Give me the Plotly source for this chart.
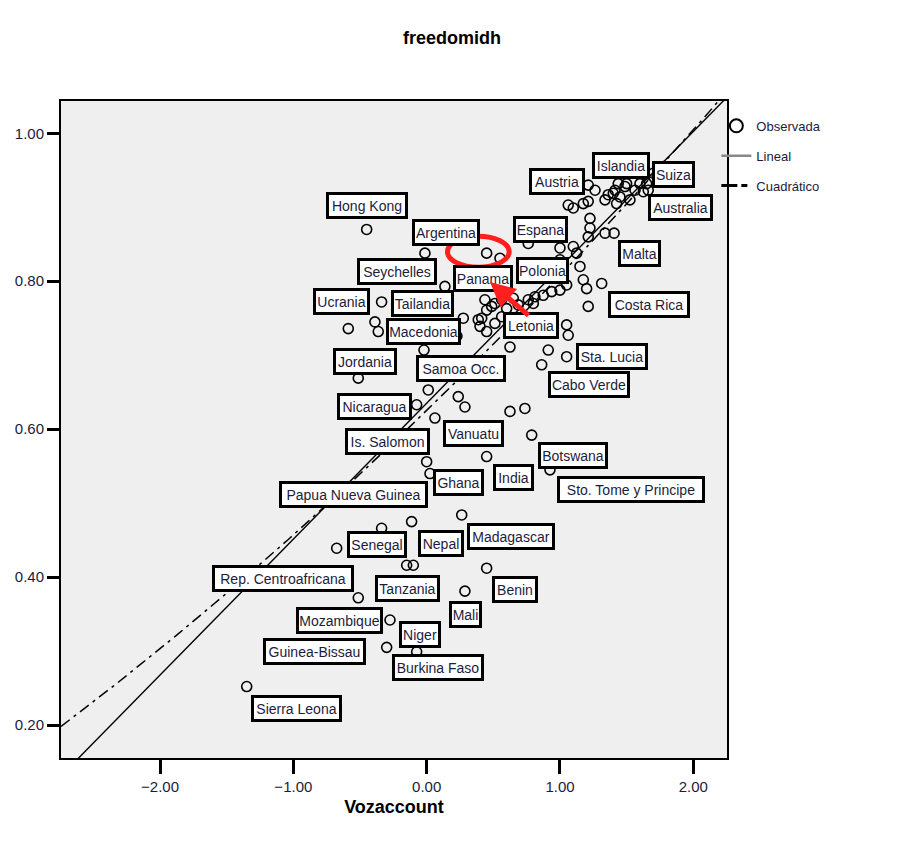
import plotly.graph_objects as go

# Observed countries: Vozaccount (x) vs freedomidh (y)
voz = [1.212, 1.263, 1.212, 1.062, 1.100, 1.225, 1.338, 1.362, 1.400, 1.437,
       1.500, 1.450, 1.425, 1.525, 1.563, 1.600, 1.650, 1.625, 1.662, 1.700,
       1.775, 1.488, 1.338, 1.406, 1.212, 1.000, 1.100, 1.150, 1.175, 0.762,
       1.125, 1.000, 1.175, 1.200, 1.050, 1.000, 0.938, 0.875, 0.812, 0.762,
       0.687, 0.563, 0.512, 0.437, 0.450, 0.413, 0.563, 0.400, 0.450, 1.212,
       1.313, 1.050, 1.062, 0.450, 0.550, -0.013, -0.450, 0.137, -0.338, -0.588,
       -0.388, -0.363, 0.275, 0.212, 0.227, 0.625, 0.912, 1.050, 0.863, -0.513,
       0.012, -0.075, 0.237, 0.287, 0.625, 0.737, 0.062, 0.788, 0.450, 0.000,
       0.025, 0.925, 0.263, -0.113, -0.338, -0.675, -0.150, -0.100, 0.450, 0.287,
       -0.513, -0.275, -0.300, -0.075, -1.350, 0.650, 0.488, 0.600, 0.512, 0.800,
       1.413, -0.020, 0.387, 1.225]
freedom = [0.930, 0.923, 0.908, 0.903, 0.899, 0.885, 0.910, 0.917, 0.919, 0.932,
           0.932, 0.914, 0.905, 0.910, 0.923, 0.932, 0.932, 0.921, 0.923, 0.946,
           0.955, 0.928, 0.865, 0.865, 0.860, 0.845, 0.847, 0.820, 0.905, 0.851,
           0.838, 0.829, 0.802, 0.790, 0.795, 0.788, 0.786, 0.781, 0.779, 0.775,
           0.768, 0.775, 0.770, 0.775, 0.761, 0.750, 0.752, 0.739, 0.732, 0.766,
           0.797, 0.741, 0.727, 0.838, 0.831, 0.838, 0.870, 0.793, 0.772, 0.736,
           0.745, 0.732, 0.750, 0.740, 0.726, 0.711, 0.707, 0.698, 0.687, 0.669,
           0.653, 0.633, 0.644, 0.630, 0.624, 0.628, 0.615, 0.592, 0.563, 0.556,
           0.540, 0.545, 0.484, 0.475, 0.466, 0.439, 0.416, 0.416, 0.412, 0.381,
           0.372, 0.342, 0.305, 0.299, 0.252, 0.777, 0.766, 0.763, 0.743, 0.770,
           0.923, 0.707, 0.748, 0.872]

# Fitted curves: intercept, slope (, quadratic term)
linear_fit = [0.635, 0.1837]
quad_fit = [0.6252, 0.1754, 0.00717]

# Country labels and their positions
label_names = ["Hong Kong", "Argentina", "Espana", "Austria", "Islandia", "Suiza",
               "Australia", "Malta", "Polonia", "Panama", "Seychelles", "Ucrania",
               "Tailandia", "Macedonia", "Letonia", "Costa Rica", "Jordania",
               "Samoa Occ.", "Sta. Lucia", "Cabo Verde", "Nicaragua", "Is. Salomon",
               "Vanuatu", "Botswana", "India", "Ghana", "Sto. Tome y Principe",
               "Papua Nueva Guinea", "Madagascar", "Senegal", "Nepal", "Tanzania",
               "Benin", "Mali", "Niger", "Burkina Faso", "Mozambique",
               "Guinea-Bissau", "Rep. Centroafricana", "Sierra Leona"]
label_x = [-0.444, 0.143, 0.856, 0.977, 1.456, 1.850, 1.906, 1.600, 0.870, 0.425,
           -0.221, -0.638, -0.029, -0.020, 0.779, 1.668, -0.463, 0.256, 1.388, 1.219,
           -0.395, -0.294, 0.353, 1.100, 0.653, 0.240, 1.533, -0.547, 0.634, -0.369,
           0.110, -0.144, 0.659, 0.295, -0.047, 0.087, -0.656, -0.840, -1.080, -0.975]
label_y = [0.902, 0.866, 0.870, 0.935, 0.957, 0.945, 0.900, 0.837, 0.814, 0.804,
           0.813, 0.772, 0.770, 0.732, 0.740, 0.768, 0.692, 0.682, 0.698, 0.660,
           0.631, 0.584, 0.594, 0.564, 0.534, 0.528, 0.518, 0.512, 0.455, 0.444,
           0.445, 0.385, 0.383, 0.349, 0.322, 0.278, 0.341, 0.300, 0.398, 0.222]
label_w = [82, 68, 55, 56, 58, 43, 65, 43, 53, 60,
           80, 57, 63, 75, 56, 82, 64, 90, 72, 82,
           75, 85, 61, 70, 41, 51, 148, 149, 88, 60,
           46, 65, 46, 33, 42, 92, 87, 103, 142, 91]

x_ticks = [-2.0, -1.0, 0.0, 1.0, 2.0]
y_ticks = [0.2, 0.4, 0.6, 0.8, 1.0]
x_range = [-2.743, 2.253]
y_range = [0.1554, 1.0437]

# highlighted region and pointer
highlight_box = [0.156, 0.619, 0.819, 0.861]
pointer_tip = [0.475, 0.799]
pointer_tail = [0.775, 0.752]

sans = "Liberation Sans, Arial, sans-serif"
ink = "#1c1c3c"

n = 400
xs = [x_range[0] + (x_range[1] - x_range[0]) * i / (n - 1) for i in range(n)]
lin_y = [linear_fit[0] + linear_fit[1] * v for v in xs]
quad_y = [quad_fit[0] + quad_fit[1] * v + quad_fit[2] * v * v for v in xs]

fig = go.Figure()
fig.add_trace(go.Scatter(
    x=voz, y=freedom, mode="markers", showlegend=False,
    marker=dict(symbol="circle-open", size=10, color="black", line=dict(width=1.6))))
fig.add_trace(go.Scatter(x=xs, y=quad_y, mode="lines", showlegend=False,
                         line=dict(color="black", width=1.5, dash="11px,5px,3px,5px")))
fig.add_trace(go.Scatter(x=xs, y=lin_y, mode="lines", showlegend=False,
                         line=dict(color="black", width=1.4)))

# legend entries
fig.add_trace(go.Scatter(x=[None], y=[None], mode="markers", name="Observada",
                         legendgroup="a",
                         marker=dict(symbol="circle-open", size=13, color="black",
                                     line=dict(width=2))))
fig.add_trace(go.Scatter(x=[None], y=[None], mode="lines", name="Lineal",
                         legendgroup="b", line=dict(color="#888888", width=2.5)))
fig.add_trace(go.Scatter(x=[None], y=[None], mode="lines", name="Cuadrático",
                         legendgroup="c",
                         line=dict(color="black", width=3, dash="16px,4px,6px,4px")))

fig.add_shape(type="circle", xref="x", yref="y",
              x0=highlight_box[0], x1=highlight_box[1],
              y0=highlight_box[2], y1=highlight_box[3],
              line=dict(color="#ff1f1f", width=5), layer="above")

for name, lx, ly, w in zip(label_names, label_x, label_y, label_w):
    fig.add_annotation(
        x=lx, y=ly, xref="x", yref="y", text=name, showarrow=False,
        width=w - 6, height=27 - 6, align="center", valign="middle",
        bgcolor="white", bordercolor="black", borderwidth=3, borderpad=0,
        font=dict(family=sans, size=14, color=ink))

fig.add_annotation(
    x=pointer_tip[0], y=pointer_tip[1], ax=pointer_tail[0], ay=pointer_tail[1],
    xref="x", yref="y", axref="x", ayref="y", text="", showarrow=True,
    arrowhead=2, arrowsize=1, arrowwidth=5, arrowcolor="#ff1f1f", standoff=0)

fig.update_layout(
    width=904, height=847,
    margin=dict(l=61, r=177, t=101, b=89),
    paper_bgcolor="white", plot_bgcolor="#efefef",
    title=dict(text="<b>freedomidh</b>", x=0.5, xanchor="center",
               y=1 - 38 / 847, yanchor="middle",
               font=dict(family=sans, size=18, color="black")),
    legend=dict(x=0.984, y=0.985, xanchor="left", yanchor="top",
                traceorder="grouped", tracegroupgap=10,
                bgcolor="rgba(0,0,0,0)",
                font=dict(family=sans, size=13, color=ink)),
)
fig.update_xaxes(
    range=x_range, tickvals=x_ticks, tickformat=".2f",
    showgrid=False, zeroline=False,
    showline=True, linecolor="black", linewidth=2, mirror=True,
    ticks="outside", ticklen=14, tickwidth=3, tickcolor="black",
    tickfont=dict(family=sans, size=15, color=ink),
    title=dict(text="<b>Vozaccount</b>", standoff=6,
               font=dict(family=sans, size=18, color="black")))
fig.update_yaxes(
    range=y_range, tickvals=y_ticks, tickformat=".2f",
    showgrid=False, zeroline=False,
    showline=True, linecolor="black", linewidth=2, mirror=True,
    ticks="outside", ticklen=12, tickwidth=3, tickcolor="black",
    tickfont=dict(family=sans, size=15, color=ink))

fig.write_html("out.html")
